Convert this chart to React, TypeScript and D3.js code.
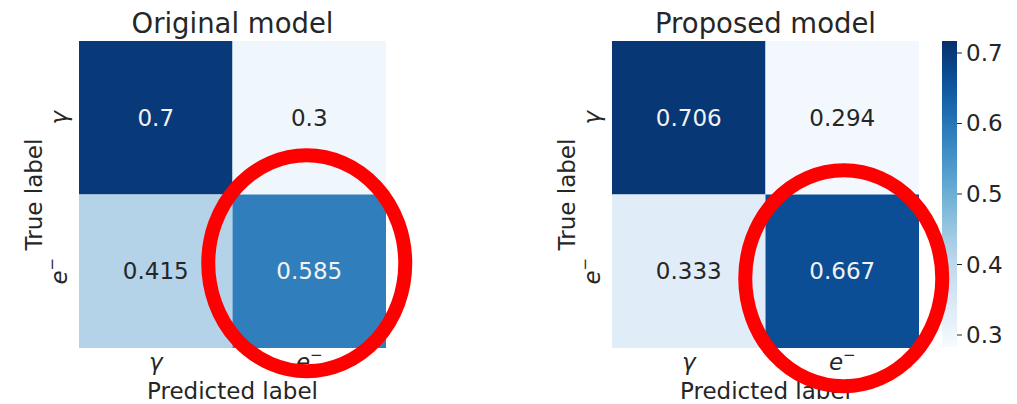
import React from 'react'
import * as d3 from 'd3'

// class names on both axes (rendered as mathtext-like italics)
const CLASSES = ['gamma', 'electron']
const ORIGINAL_MATRIX = [
  [0.7, 0.3],
  [0.415, 0.585],
]
const PROPOSED_MATRIX = [
  [0.706, 0.294],
  [0.333, 0.667],
]
const COLOR_DOMAIN: [number, number] = [0.283, 0.717]
const COLORBAR_TICKS = [0.3, 0.4, 0.5, 0.6, 0.7]
const TITLES = ['Original model', 'Proposed model']
const X_LABEL = 'Predicted label'
const Y_LABEL = 'True label'
// which cell gets the red highlight ring
const HIGHLIGHT_CELL = [1, 1]

const W = 1017
const H = 404
const FONT = '"DejaVu Sans", sans-serif'
const TEXT = '#262626'

const color = d3.scaleSequential(d3.interpolateBlues).domain(COLOR_DOMAIN)

const ClassLabel = ({ name }: { name: string }) =>
  name === 'gamma' ? (
    <tspan fontStyle="italic">γ</tspan>
  ) : (
    <>
      <tspan fontStyle="italic">e</tspan>
      <tspan fontSize={15} dy={-10}>−</tspan>
    </>
  )

const Heatmap = ({ title, matrix, left, ring }: { title: string; matrix: number[][]; left: number; ring: [number, number] }) => {
  const size = 307
  const top = 41
  const x = d3.scaleBand().domain(CLASSES).range([left, left + size])
  const y = d3.scaleBand().domain(CLASSES).range([top, top + size])
  const bw = x.bandwidth()
  const cx = left + size / 2
  const [hr, hc] = HIGHLIGHT_CELL

  return (
    <g>
      <text x={cx} y={32.5} textAnchor="middle" fontSize={27.5} fill={TEXT}>{title}</text>
      {matrix.map((row, i) =>
        row.map((v, j) => (
          <g key={`${i}-${j}`}>
            <rect x={x(CLASSES[j])} y={y(CLASSES[i])} width={bw} height={bw} fill={color(v)} />
            <text
              x={(x(CLASSES[j]) as number) + bw / 2}
              y={(y(CLASSES[i]) as number) + bw / 2 + 8}
              textAnchor="middle"
              fontSize={23}
              fill={color.domain()[0] + 0.5 * (COLOR_DOMAIN[1] - COLOR_DOMAIN[0]) < v ? '#f2f2f2' : TEXT}
            >
              {String(v)}
            </text>
          </g>
        ))
      )}
      {CLASSES.map(c => (
        <text key={'x' + c} x={(x(c) as number) + bw / 2} y={370} textAnchor="middle" fontSize={23} fill={TEXT}>
          <ClassLabel name={c} />
        </text>
      ))}
      {CLASSES.map(c => (
        <text
          key={'y' + c}
          transform={`translate(${left - 12},${(y(c) as number) + bw / 2}) rotate(-90)`}
          textAnchor="middle"
          fontSize={23}
          fill={TEXT}
        >
          <ClassLabel name={c} />
        </text>
      ))}
      <text x={cx} y={399} textAnchor="middle" fontSize={23} fill={TEXT}>{X_LABEL}</text>
      <text transform={`translate(${left - 37},${top + size / 2}) rotate(-90)`} textAnchor="middle" fontSize={23} fill={TEXT}>
        {Y_LABEL}
      </text>
      <ellipse
        cx={(x(CLASSES[hc]) as number) + bw / 2 + ring[0]}
        cy={(y(CLASSES[hr]) as number) + bw / 2 + ring[1]}
        rx={98.5}
        ry={108}
        fill="none"
        stroke="#ff0000"
        strokeWidth={14}
      />
    </g>
  )
}

const Colorbar = () => {
  const x0 = 942
  const w = 15
  const yScale = d3.scaleLinear().domain(COLOR_DOMAIN).range([347, 41])
  const stops = d3.range(0, 1.0001, 0.05)
  return (
    <g>
      <defs>
        <linearGradient id="cbar" x1="0" y1="1" x2="0" y2="0">
          {stops.map(t => (
            <stop key={t} offset={t} stopColor={d3.interpolateBlues(t)} />
          ))}
        </linearGradient>
      </defs>
      <rect x={x0} y={yScale(COLOR_DOMAIN[1])} width={w} height={yScale(COLOR_DOMAIN[0]) - yScale(COLOR_DOMAIN[1])} fill="url(#cbar)" />
      {COLORBAR_TICKS.map(t => (
        <g key={t} transform={`translate(0,${yScale(t)})`}>
          <line x1={x0 + w} x2={x0 + w + 5} stroke={TEXT} strokeWidth={1} />
          <text x={x0 + w + 9} y={8} fontSize={23} fill={TEXT}>{d3.format('.1f')(t)}</text>
        </g>
      ))}
    </g>
  )
}

export default function App() {
  return (
    <svg width={W} height={H} style={{ position: 'absolute', left: 0, top: 0, background: '#fff' }} fontFamily={FONT}>
      <Colorbar />
      <Heatmap title={TITLES[0]} matrix={ORIGINAL_MATRIX} left={79} ring={[-2.5, -8]} />
      <Heatmap title={TITLES[1]} matrix={PROPOSED_MATRIX} left={612} ring={[1.5, 7]} />
    </svg>
  )
}
